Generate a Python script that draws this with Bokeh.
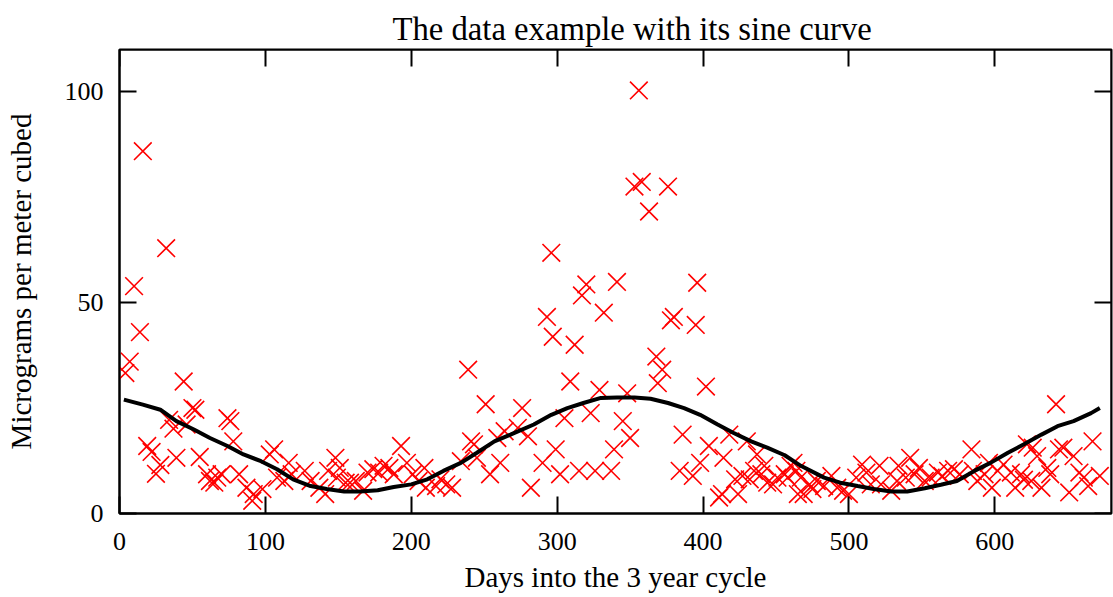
from bokeh.plotting import figure
from bokeh.models import Range1d, LinearAxis, FixedTicker
from bokeh.embed import file_html
from bokeh.resources import INLINE

# ---- data ----
days = [4, 7, 10, 14, 16, 19, 22, 25, 28, 32,
        34, 37, 39, 44, 46, 50, 52, 55, 60, 62,
        65, 67, 70, 74, 76, 78, 82, 87, 92, 91,
        98, 103, 106, 108, 113, 116, 118, 127, 131, 137,
        141, 143, 148, 149, 151, 155, 158, 162, 167, 170,
        174, 178, 181, 185, 188, 193, 197, 201, 205, 209,
        210, 217, 220, 224, 228, 234, 239, 241, 243, 245,
        251, 254, 259, 261, 264, 273, 276, 280, 282, 290,
        293, 296, 297, 299, 302, 305, 309, 312, 315, 317,
        320, 323, 326, 329, 332, 337, 339, 341, 345, 348,
        350, 353, 356, 358, 363, 368, 369, 372, 376, 378,
        380, 384, 386, 393, 395, 396, 398, 402, 404, 411,
        413, 414, 418, 422, 424, 427, 430, 432, 435, 437,
        440, 442, 444, 448, 451, 456, 458, 460, 462, 464,
        465, 467, 469, 473, 475, 478, 483, 488, 492, 496,
        500, 505, 509, 512, 515, 521, 522, 529, 533, 534,
        539, 542, 545, 548, 552, 556, 561, 564, 568, 572,
        576, 584, 585, 588, 593, 596, 598, 602, 606, 611,
        614, 618, 620, 622, 625, 626, 629, 632, 636, 638,
        642, 644, 647, 651, 654, 658, 661, 664, 667, 672]

conc = [33.3, 36.0, 53.9, 43.0, 85.9, 16.0, 14.6, 9.4, 11.5, 62.9,
        22.2, 20.1, 13.2, 31.3, 21.1, 25.0, 24.6, 13.4, 9.3, 7.7,
        7.3, 8.5, 9.3, 22.6, 21.9, 17.1, 9.3, 6.1, 4.6, 3.0,
        5.8, 14.0, 15.2, 8.5, 7.7, 12.0, 9.3, 10.1, 7.7, 6.1,
        4.6, 10.1, 13.2, 8.5, 10.8, 7.3, 7.3, 7.7, 5.4, 9.7,
        10.5, 9.7, 11.3, 10.8, 9.3, 16.0, 12.0, 9.3, 7.7, 10.8,
        6.1, 6.5, 8.1, 6.9, 6.1, 12.4, 34.1, 17.1, 16.4, 13.2,
        25.9, 9.3, 17.9, 12.0, 19.5, 20.3, 25.0, 18.3, 6.1, 12.0,
        46.6, 61.8, 41.9, 15.2, 9.3, 22.6, 31.3, 40.0, 10.1, 51.7,
        54.3, 23.8, 10.1, 29.3, 47.6, 10.1, 15.2, 54.9, 21.9, 28.5,
        17.9, 77.5, 100.3, 78.6, 71.6, 37.2, 30.9, 34.1, 77.5, 45.8,
        46.6, 10.1, 18.7, 8.9, 44.7, 54.7, 12.0, 30.1, 16.0, 3.8,
        4.6, 13.2, 18.7, 8.1, 4.6, 8.9, 17.1, 8.1, 10.1, 14.0,
        9.3, 11.3, 7.3, 6.9, 8.5, 9.3, 8.5, 11.3, 12.0, 10.1,
        4.6, 8.5, 4.6, 6.9, 5.8, 7.7, 6.5, 8.9, 6.1, 5.4,
        4.6, 8.5, 11.6, 9.7, 6.9, 11.3, 6.9, 5.4, 7.7, 11.3,
        8.5, 13.2, 9.3, 10.8, 7.7, 8.5, 9.7, 8.9, 10.1, 10.5,
        9.3, 15.2, 10.1, 7.7, 9.3, 12.0, 6.1, 10.1, 11.6, 9.7,
        6.1, 9.3, 8.0, 16.4, 7.7, 15.6, 13.6, 6.1, 10.8, 9.3,
        25.9, 15.2, 15.6, 5.0, 13.6, 9.7, 8.5, 6.5, 17.1, 8.9]

curve_days = [3, 16, 28, 39, 51, 62, 74, 85, 97, 108,
              119, 131, 142, 154, 165, 177, 188, 200, 211, 222,
              234, 245, 257, 268, 284, 296, 307, 318, 330, 341,
              353, 364, 376, 387, 398, 410, 421, 433, 444, 456,
              467, 483, 494, 506, 517, 529, 540, 552, 563, 574,
              586, 597, 609, 620, 632, 643, 654, 666, 672]
curve_conc = [27.0, 25.8, 24.6, 21.9, 19.9, 17.9, 16.0, 14.0, 12.4, 10.5,
              8.1, 6.5, 5.8, 5.2, 5.2, 5.5, 6.3, 6.9, 8.1, 10.1,
              12.0, 14.4, 17.1, 18.7, 21.1, 23.4, 25.0, 26.2, 27.4, 27.5,
              27.5, 27.2, 26.2, 25.0, 23.4, 21.1, 19.1, 17.1, 15.6, 13.8,
              11.3, 8.5, 7.3, 6.5, 5.8, 5.2, 5.2, 6.0, 6.8, 7.7,
              10.1, 12.0, 14.4, 16.4, 18.7, 20.7, 21.9, 23.8, 25.0]

x_ticks = [0, 100, 200, 300, 400, 500, 600]
y_ticks = [0, 50, 100]
title_text = "The data example with its sine curve"
x_label = "Days into the 3 year cycle"
y_label = "Micrograms per meter cubed"
X_END = 680
Y_END = 110

FONT = "Liberation Serif"

p = figure(width=1113, height=597, output_backend="svg", toolbar_location=None,
           x_range=Range1d(0, X_END), y_range=Range1d(0, Y_END),
           x_axis_location=None, y_axis_location=None,
           min_border_left=119, min_border_right=2,
           min_border_top=49, min_border_bottom=84,
           background_fill_color="white", border_fill_color="white")

p.title.text = title_text
p.title.align = "left"
p.title.offset = 273
p.title.vertical_align = "top"
p.title.standoff = 1
p.title.text_font = FONT
p.title.text_font_size = "32.7px"
p.title.text_font_style = "normal"
p.title.text_color = "black"

p.xgrid.visible = False
p.ygrid.visible = False
p.outline_line_color = "black"
p.outline_line_width = 2
p.outline_line_alpha = 1


def make_axis(ticks, loc=None, labels=True, **kw):
    ax = LinearAxis(ticker=FixedTicker(ticks=ticks),
                    major_tick_in=17, major_tick_out=0, minor_tick_in=0, minor_tick_out=0,
                    major_tick_line_width=2, major_tick_line_color="black",
                    axis_line_width=2, axis_line_color="black",
                    major_label_text_font=FONT, major_label_text_font_size="26px",
                    major_label_text_color="black",
                    axis_label_text_font=FONT, axis_label_text_font_size="29px",
                    axis_label_text_font_style="normal", axis_label_text_color="black",
                    **kw)
    if loc is not None:
        ax.fixed_location = loc
    if not labels:
        ax.major_label_overrides = {t: "" for t in ticks}
    return ax


bottom = make_axis(x_ticks, axis_label=x_label,
                   major_label_standoff=19, axis_label_standoff=8)
left = make_axis(y_ticks, axis_label=y_label,
                 major_label_standoff=16, axis_label_standoff=25,
                 major_label_orientation="horizontal")
top = make_axis(x_ticks, loc=Y_END, labels=False)
right = make_axis(y_ticks, loc=X_END, labels=False)
p.add_layout(bottom, "below")
p.add_layout(left, "left")
p.add_layout(top, "above")
p.add_layout(right, "right")

p.scatter(days, conc, marker="x", size=25, line_color="#ff0000", line_width=1.6)
p.line(curve_days, curve_conc, line_color="black", line_width=4)

open("out.html", "w").write(file_html(p, INLINE))
